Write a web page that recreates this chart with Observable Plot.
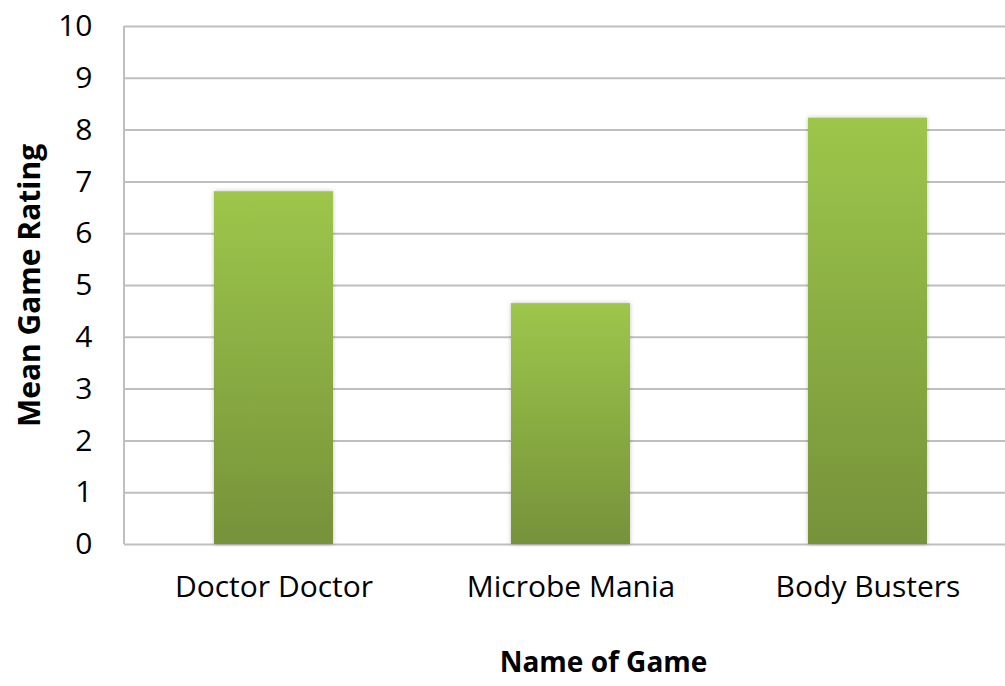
<!DOCTYPE html>
<html>
<head>
<meta charset="utf-8">
<script src="https://cdn.jsdelivr.net/npm/d3@7"></script>
<script src="https://cdn.jsdelivr.net/npm/@observablehq/plot@0.6"></script>
<style>
  html, body { margin: 0; padding: 0; background: white; overflow: hidden; }
</style>
</head>
<body>
<div id="chart"></div>
<script>
const categories = ["Doctor Doctor", "Microbe Mania", "Body Busters"];
const ratings = [6.81, 4.65, 8.23];
const yTicks = [0, 1, 2, 3, 4, 5, 6, 7, 8, 9, 10];
const yTitle = "Mean Game Rating";
const xTitle = "Name of Game";

const data = categories.map((c, i) => ({game: c, rating: ratings[i]}));

const defs = () => {
  const ns = "http://www.w3.org/2000/svg";
  const g = document.createElementNS(ns, "defs");
  g.innerHTML = `
    <linearGradient id="barGrad" x1="0" y1="0" x2="0" y2="1">
      <stop offset="0" stop-color="#9dc64b"/>
      <stop offset="1" stop-color="#76923a"/>
    </linearGradient>
    <filter id="barShadow" x="-10%" y="-10%" width="120%" height="120%">
      <feDropShadow dx="0" dy="0" stdDeviation="2" flood-color="#000" flood-opacity="0.25"/>
    </filter>`;
  return g;
};

const leftAxisLine = (index, scales, values, dimensions) => {
  const ns = "http://www.w3.org/2000/svg";
  const l = document.createElementNS(ns, "line");
  const x = dimensions.marginLeft;
  l.setAttribute("x1", x);
  l.setAttribute("x2", x);
  l.setAttribute("y1", scales.y(10));
  l.setAttribute("y2", scales.y(0));
  l.setAttribute("stroke", "#bfbfbf");
  l.setAttribute("stroke-width", 2);
  return l;
};

const chart = Plot.plot({
  width: 1005,
  height: 686,
  marginLeft: 124,
  marginRight: -11,
  marginTop: 26,
  marginBottom: 142,
  style: {fontFamily: "'Open Sans', sans-serif", background: "white", overflow: "hidden", color: "#000"},
  x: {domain: categories, paddingInner: 0.6, paddingOuter: 0.3, label: null},
  y: {domain: [0, 10], label: null},
  marks: [
    defs,
    Plot.ruleY(yTicks, {stroke: "#bfbfbf", strokeWidth: 2}),
    leftAxisLine,
    Plot.barY(data, {x: "game", y: "rating", fill: "url(#barGrad)"}),
    Plot.axisY(yTicks, {tickSize: 0, tickPadding: 32, fontSize: 30, tickFormat: "d", label: null}),
    Plot.axisX({tickSize: 0, tickPadding: 31, fontSize: 30, label: null}),
    Plot.text([yTitle], {frameAnchor: "left", dx: -94, rotate: -90, textAnchor: "middle", lineAnchor: "middle", fontWeight: "bold", fontSize: 30}),
    Plot.text([xTitle], {frameAnchor: "bottom", dx: 33, dy: 119, textAnchor: "middle", lineAnchor: "middle", fontWeight: "bold", fontSize: 28})
  ]
});
chart.querySelectorAll("rect").forEach(r => {
  if (r.getAttribute("fill") === "url(#barGrad)" || (r.parentNode && r.parentNode.getAttribute && r.parentNode.getAttribute("fill") === "url(#barGrad)")) {
    r.setAttribute("filter", "url(#barShadow)");
  }
});
document.getElementById("chart").appendChild(chart);
</script>
</body>
</html>
